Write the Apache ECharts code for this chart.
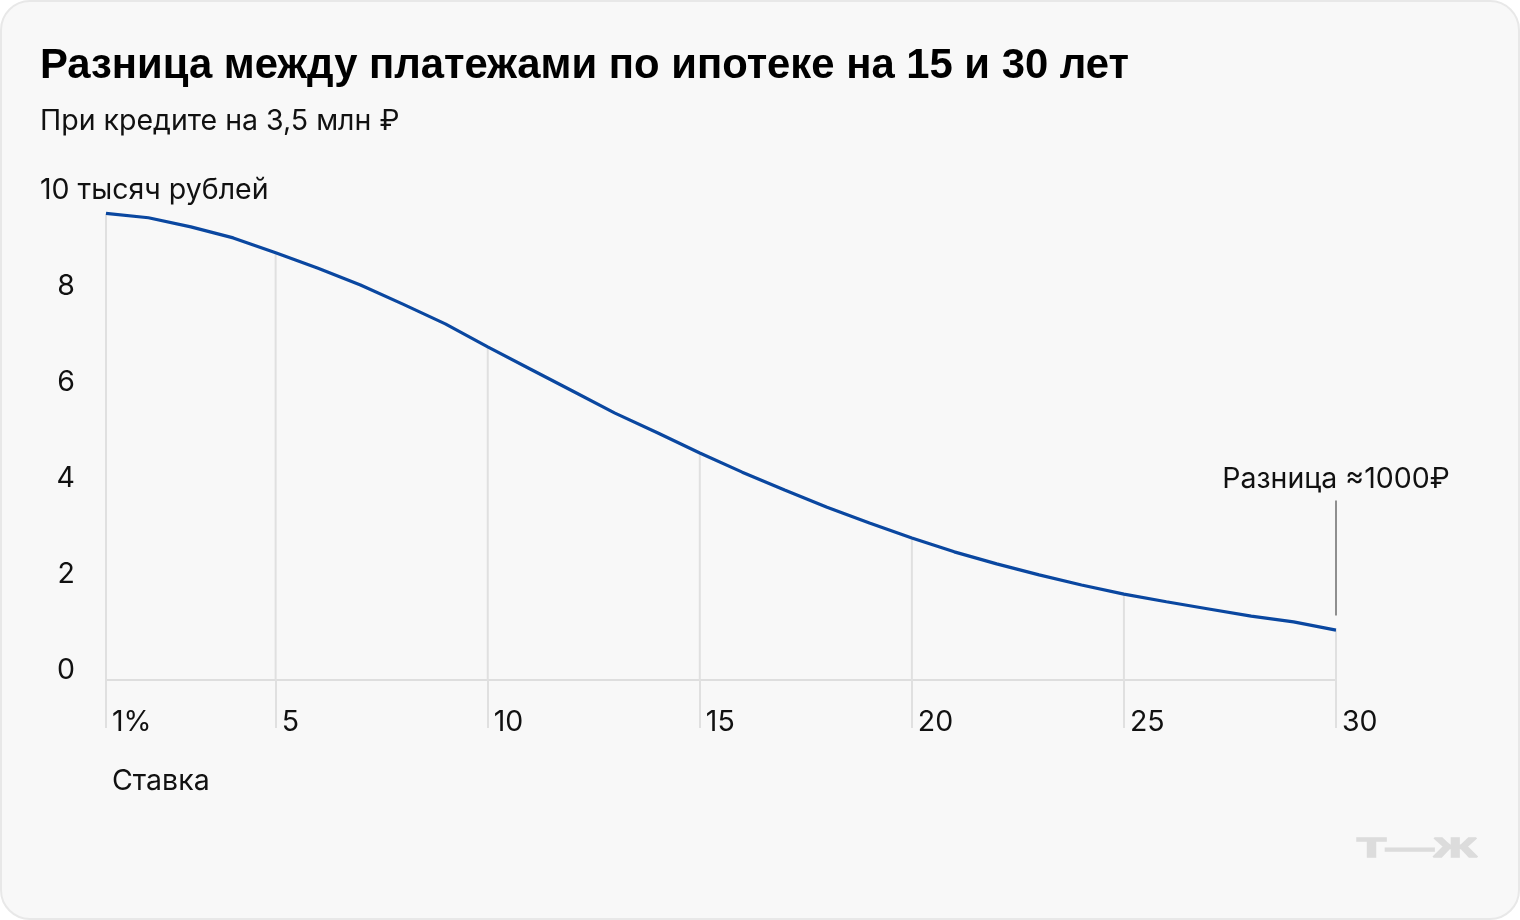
<!DOCTYPE html>
<html>
<head>
<meta charset="utf-8">
<script src="https://cdn.jsdelivr.net/npm/echarts@6/dist/echarts.min.js"></script>
<style>
html,body{margin:0;padding:0;background:#ffffff;}
#card{position:absolute;left:0;top:0;width:1520px;height:920px;box-sizing:border-box;border:2px solid #e8e8e8;border-radius:30px;background:#f8f8f8;}
#chart{position:absolute;left:0;top:0;width:1520px;height:920px;}
</style>
</head>
<body>
<div id="card"></div>
<div id="chart"></div>
<script>
// Data
const rates = [1,2,3,4,5,6,7,8,9,10,11,12,13,14,15,16,17,18,19,20,21,22,23,24,25,26,27,28,29,30];
const diffThousands = [9.72,9.63,9.44,9.21,8.90,8.58,8.23,7.83,7.42,6.94,6.48,6.02,5.56,5.15,4.73,4.33,3.96,3.60,3.27,2.96,2.67,2.42,2.19,1.98,1.79,1.63,1.48,1.33,1.21,1.04];
const labeledRates = [1,5,10,15,20,25,30];
const yTicks = [0,2,4,6,8,10];
const titleText = 'Разница между платежами по ипотеке на 15 и 30 лет';
const subtitleText = 'При кредите на 3,5 млн ₽';
const yUnit = 'тысяч рублей';
const xName = 'Ставка';
const noteText = 'Разница ≈1000₽';

const FONT = 'Inter, Roboto, sans-serif';
const FS = 28.5;
const isLabeled = (r) => labeledRates.indexOf(Number(r)) >= 0;

const chart = echarts.init(document.getElementById('chart'), null, {renderer: 'canvas'});
chart.setOption({
  backgroundColor: 'transparent',
  animation: false,
  title: {
    text: titleText,
    subtext: subtitleText,
    left: 40,
    top: 45,
    padding: 0,
    itemGap: 20,
    textStyle: {fontFamily: 'Liberation Sans, Arial, sans-serif', fontWeight: 'bold', fontSize: 41.8, color: '#000'},
    subtextStyle: {fontFamily: FONT, fontSize: FS, color: '#111'}
  },
  grid: {left: 106, right: 184, top: 200, bottom: 240, containLabel: false},
  xAxis: {
    type: 'category',
    data: rates.map(String),
    boundaryGap: false,
    name: xName,
    nameLocation: 'start',
    nameGap: 0,
    nameTextStyle: {fontFamily: FONT, fontSize: FS, color: '#111', align: 'left', verticalAlign: 'top', padding: [87, 0, 0, 6]},
    axisLine: {show: true, lineStyle: {color: '#dedede', width: 2}},
    axisTick: {show: true, length: 48, interval: (i, v) => isLabeled(v), lineStyle: {color: '#e0e0e0', width: 2}},
    axisLabel: {
      interval: (i, v) => isLabeled(v),
      formatter: (v) => Number(v) === rates[0] ? v + '%' : v,
      align: 'left',
      margin: 28,
      padding: [0, 0, 0, 6],
      fontFamily: FONT, fontSize: FS, color: '#111'
    },
    splitLine: {show: false}
  },
  yAxis: {
    type: 'value',
    min: yTicks[0],
    max: yTicks[yTicks.length - 1],
    interval: yTicks[1] - yTicks[0],
    axisLine: {show: false},
    axisTick: {show: false},
    splitLine: {show: false},
    axisLabel: {
      align: 'left',
      margin: 66,
      padding: [0, 0, 20, 0],
      fontFamily: FONT, fontSize: FS, color: '#111',
      formatter: (v) => v === yTicks[yTicks.length - 1] ? v + ' ' + yUnit : '{n|' + v + '}',
      rich: {
        n: {width: 35, align: 'right', fontFamily: FONT, fontSize: FS, color: '#111'}
      }
    }
  },
  series: [
    {
      type: 'bar',
      barWidth: 2,
      silent: true,
      itemStyle: {color: '#e0e0e0'},
      data: diffThousands.map((v, i) => isLabeled(rates[i]) ? v : '-'),
      z: 1
    },
    {
      type: 'line',
      data: diffThousands,
      symbol: 'none',
      smooth: false,
      lineStyle: {color: '#0a47a0', width: 3.2},
      z: 3,
      markPoint: {
        silent: true,
        symbol: 'rect',
        symbolSize: [2, 115],
        symbolOffset: [0, -72],
        itemStyle: {color: '#8f8f8f'},
        label: {
          show: true,
          position: 'top',
          distance: 7,
          formatter: noteText,
          fontFamily: FONT, fontSize: FS, color: '#111'
        },
        data: [{coord: [String(rates[rates.length - 1]), diffThousands[diffThousands.length - 1]]}]
      }
    }
  ],
  graphic: [
    {
      type: 'text',
      right: 42,
      bottom: 56,
      scaleX: 1.7,
      style: {text: 'Т—Ж', fontFamily: 'Liberation Sans, Arial, sans-serif', fontWeight: 'bold', fontSize: 28, fill: '#dcdcdc', stroke: '#dcdcdc', lineWidth: 1.5}
    }
  ]
});
</script>
</body>
</html>
